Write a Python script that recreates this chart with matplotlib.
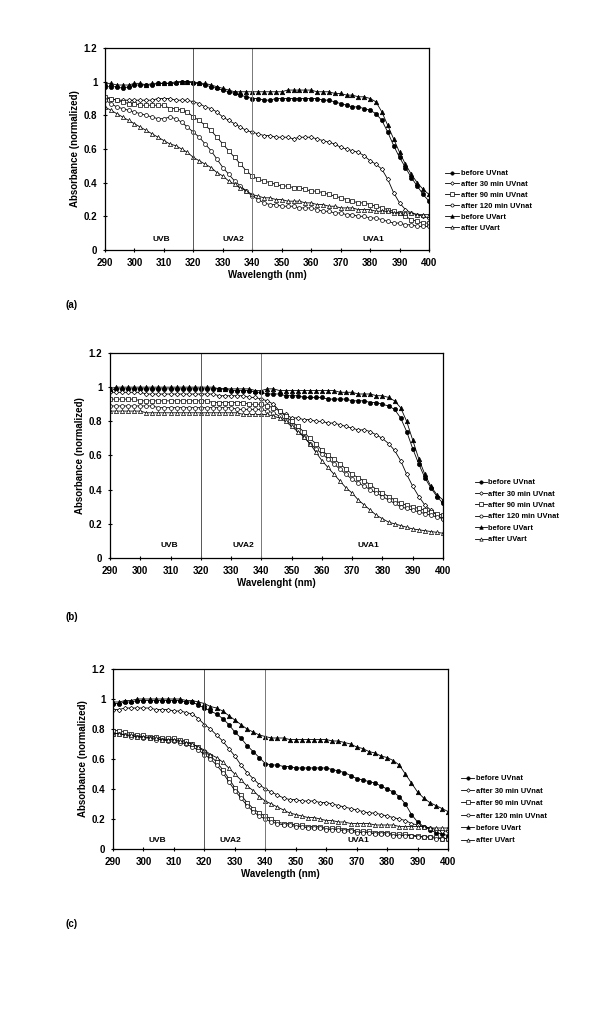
import numpy as np
import matplotlib
matplotlib.use("Agg")
import matplotlib.pyplot as plt

plt.rcParams["font.family"] = ["Liberation Sans", "DejaVu Sans"]
plt.rcParams["font.weight"] = "bold"

# wavelengths (nm), one reading every 2 nm
wl = np.arange(290, 401, 2)

series_names = ["before UVnat", "after 30 min UVnat", "after 90 min UVnat",
                "after 120 min UVnat", "before UVart", "after UVart"]

# ---- panel (a)
a_before_nat = [0.97, 0.97, 0.97, 0.96, 0.97, 0.98, 0.98, 0.98, 0.98, 0.99,
                0.99, 0.99, 0.99, 1.00, 1.00, 0.99, 0.99, 0.98, 0.97, 0.96,
                0.95, 0.94, 0.93, 0.92, 0.91, 0.90, 0.90, 0.89, 0.89, 0.90,
                0.90, 0.90, 0.90, 0.90, 0.90, 0.90, 0.90, 0.89, 0.89, 0.88,
                0.87, 0.86, 0.85, 0.85, 0.84, 0.83, 0.81, 0.77, 0.70, 0.62,
                0.55, 0.49, 0.43, 0.38, 0.33, 0.29]
a_30 = [0.90, 0.90, 0.89, 0.89, 0.89, 0.89, 0.89, 0.89, 0.89, 0.90,
        0.90, 0.90, 0.89, 0.89, 0.89, 0.88, 0.87, 0.85, 0.84, 0.82,
        0.79, 0.77, 0.75, 0.73, 0.71, 0.70, 0.69, 0.68, 0.68, 0.67,
        0.67, 0.67, 0.66, 0.67, 0.67, 0.67, 0.66, 0.65, 0.64, 0.63,
        0.61, 0.60, 0.59, 0.58, 0.56, 0.53, 0.51, 0.48, 0.42, 0.34,
        0.28, 0.24, 0.22, 0.21, 0.20, 0.19]
a_90 = [0.91, 0.90, 0.89, 0.88, 0.87, 0.87, 0.86, 0.86, 0.86, 0.86,
        0.86, 0.84, 0.84, 0.83, 0.82, 0.79, 0.77, 0.74, 0.71, 0.67,
        0.63, 0.59, 0.55, 0.51, 0.47, 0.44, 0.42, 0.41, 0.40, 0.39,
        0.38, 0.38, 0.37, 0.37, 0.36, 0.35, 0.35, 0.34, 0.33, 0.32,
        0.31, 0.30, 0.29, 0.28, 0.28, 0.27, 0.26, 0.25, 0.24, 0.23,
        0.22, 0.20, 0.18, 0.17, 0.16, 0.16]
a_120 = [0.89, 0.87, 0.85, 0.84, 0.83, 0.82, 0.81, 0.80, 0.79, 0.78,
         0.78, 0.79, 0.78, 0.76, 0.73, 0.70, 0.67, 0.63, 0.59, 0.54,
         0.49, 0.45, 0.41, 0.38, 0.35, 0.32, 0.30, 0.28, 0.27, 0.27,
         0.26, 0.26, 0.26, 0.25, 0.25, 0.25, 0.24, 0.23, 0.23, 0.22,
         0.22, 0.21, 0.21, 0.20, 0.20, 0.19, 0.19, 0.18, 0.17, 0.16,
         0.16, 0.15, 0.15, 0.14, 0.14, 0.14]
a_before_art = [0.99, 0.99, 0.98, 0.98, 0.98, 0.99, 0.99, 0.98, 0.99, 0.99,
                0.99, 0.99, 1.00, 1.00, 1.00, 1.00, 0.99, 0.99, 0.98, 0.97,
                0.96, 0.95, 0.94, 0.94, 0.94, 0.94, 0.94, 0.94, 0.94, 0.94,
                0.94, 0.95, 0.95, 0.95, 0.95, 0.95, 0.94, 0.94, 0.94, 0.93,
                0.93, 0.92, 0.92, 0.91, 0.91, 0.90, 0.88, 0.82, 0.74, 0.66,
                0.58, 0.51, 0.45, 0.40, 0.36, 0.33]
a_after_art = [0.85, 0.83, 0.81, 0.79, 0.77, 0.75, 0.73, 0.71, 0.69, 0.67,
               0.65, 0.63, 0.62, 0.60, 0.58, 0.55, 0.53, 0.51, 0.49, 0.46,
               0.44, 0.41, 0.39, 0.37, 0.35, 0.33, 0.32, 0.31, 0.31, 0.30,
               0.30, 0.29, 0.29, 0.29, 0.28, 0.28, 0.27, 0.27, 0.26, 0.26,
               0.25, 0.25, 0.25, 0.24, 0.24, 0.24, 0.23, 0.23, 0.23, 0.22,
               0.22, 0.22, 0.22, 0.21, 0.21, 0.21]

# ---- panel (b)
b_before_nat = [0.98, 0.99, 0.99, 0.99, 0.99, 0.99, 0.99, 0.99, 0.99, 0.99,
                0.99, 0.99, 0.99, 0.99, 0.99, 0.99, 0.99, 0.99, 0.99, 0.99,
                0.98, 0.98, 0.98, 0.98, 0.97, 0.97, 0.96, 0.96, 0.96, 0.95,
                0.95, 0.95, 0.94, 0.94, 0.94, 0.94, 0.93, 0.93, 0.93, 0.93,
                0.92, 0.92, 0.92, 0.91, 0.91, 0.90, 0.89, 0.87, 0.82, 0.74,
                0.64, 0.55, 0.47, 0.41, 0.36, 0.32]
b_30 = [0.97, 0.97, 0.97, 0.97, 0.97, 0.97, 0.96, 0.96, 0.96, 0.96,
        0.96, 0.96, 0.96, 0.96, 0.96, 0.96, 0.96, 0.96, 0.95, 0.95,
        0.95, 0.95, 0.95, 0.94, 0.94, 0.93, 0.92, 0.90, 0.86, 0.84,
        0.82, 0.82, 0.81, 0.81, 0.80, 0.80, 0.79, 0.79, 0.78, 0.77,
        0.76, 0.75, 0.75, 0.74, 0.72, 0.70, 0.67, 0.63, 0.57, 0.49,
        0.42, 0.36, 0.31, 0.28, 0.25, 0.23]
b_90 = [0.93, 0.93, 0.93, 0.93, 0.93, 0.92, 0.92, 0.92, 0.92, 0.92,
        0.92, 0.92, 0.92, 0.92, 0.92, 0.92, 0.92, 0.91, 0.91, 0.91,
        0.91, 0.91, 0.91, 0.90, 0.90, 0.90, 0.89, 0.88, 0.86, 0.83,
        0.80, 0.77, 0.74, 0.70, 0.67, 0.63, 0.60, 0.58, 0.55, 0.52,
        0.49, 0.47, 0.45, 0.43, 0.40, 0.38, 0.36, 0.34, 0.32, 0.31,
        0.30, 0.29, 0.28, 0.27, 0.26, 0.25]
b_120 = [0.89, 0.89, 0.89, 0.89, 0.89, 0.89, 0.89, 0.89, 0.88, 0.88,
         0.88, 0.88, 0.88, 0.88, 0.88, 0.88, 0.88, 0.88, 0.88, 0.88,
         0.88, 0.87, 0.87, 0.87, 0.87, 0.87, 0.86, 0.85, 0.83, 0.81,
         0.78, 0.75, 0.71, 0.67, 0.64, 0.61, 0.58, 0.55, 0.52, 0.49,
         0.46, 0.44, 0.42, 0.40, 0.38, 0.36, 0.34, 0.32, 0.30, 0.29,
         0.28, 0.27, 0.26, 0.25, 0.24, 0.23]
b_before_art = [0.99, 1.00, 1.00, 1.00, 1.00, 1.00, 1.00, 1.00, 1.00, 1.00,
                1.00, 1.00, 1.00, 1.00, 1.00, 1.00, 1.00, 1.00, 0.99, 0.99,
                0.99, 0.99, 0.99, 0.99, 0.98, 0.98, 0.99, 0.99, 0.98, 0.98,
                0.98, 0.98, 0.98, 0.98, 0.98, 0.98, 0.98, 0.98, 0.97, 0.97,
                0.97, 0.96, 0.96, 0.96, 0.95, 0.95, 0.94, 0.92, 0.88, 0.80,
                0.69, 0.58, 0.49, 0.42, 0.37, 0.34]
b_after_art = [0.86, 0.86, 0.86, 0.86, 0.86, 0.86, 0.85, 0.85, 0.85, 0.85,
               0.85, 0.85, 0.85, 0.85, 0.85, 0.85, 0.85, 0.85, 0.85, 0.85,
               0.85, 0.85, 0.84, 0.84, 0.84, 0.84, 0.84, 0.83, 0.82, 0.80,
               0.77, 0.74, 0.71, 0.67, 0.62, 0.57, 0.53, 0.49, 0.45, 0.41,
               0.38, 0.34, 0.31, 0.28, 0.25, 0.23, 0.21, 0.20, 0.19, 0.18,
               0.17, 0.165, 0.16, 0.155, 0.15, 0.145]

# ---- panel (c)
c_before_nat = [0.97, 0.97, 0.98, 0.98, 0.99, 0.99, 0.99, 0.99, 0.99, 0.99,
                0.99, 0.99, 0.98, 0.98, 0.96, 0.94, 0.92, 0.90, 0.87, 0.83,
                0.78, 0.74, 0.69, 0.65, 0.61, 0.57, 0.56, 0.56, 0.55, 0.55,
                0.54, 0.54, 0.54, 0.54, 0.54, 0.54, 0.53, 0.52, 0.51, 0.49,
                0.47, 0.46, 0.45, 0.44, 0.42, 0.40, 0.38, 0.35, 0.30, 0.23,
                0.18, 0.15, 0.13, 0.11, 0.10, 0.09]
c_30 = [0.93, 0.93, 0.94, 0.94, 0.94, 0.94, 0.94, 0.93, 0.93, 0.93,
        0.92, 0.92, 0.91, 0.90, 0.87, 0.83, 0.80, 0.76, 0.72, 0.67,
        0.62, 0.56, 0.51, 0.47, 0.43, 0.40, 0.38, 0.36, 0.34, 0.33,
        0.33, 0.32, 0.32, 0.32, 0.31, 0.31, 0.30, 0.29, 0.28, 0.27,
        0.26, 0.25, 0.24, 0.24, 0.23, 0.22, 0.21, 0.20, 0.19, 0.17,
        0.16, 0.15, 0.14, 0.13, 0.12, 0.12]
c_90 = [0.79, 0.79, 0.78, 0.77, 0.76, 0.76, 0.75, 0.75, 0.74, 0.74,
        0.74, 0.73, 0.72, 0.70, 0.68, 0.65, 0.62, 0.58, 0.53, 0.47,
        0.41, 0.36, 0.31, 0.27, 0.24, 0.22, 0.20, 0.18, 0.17, 0.17,
        0.16, 0.16, 0.15, 0.15, 0.15, 0.14, 0.14, 0.14, 0.13, 0.13,
        0.12, 0.12, 0.12, 0.11, 0.11, 0.11, 0.10, 0.10, 0.10, 0.09,
        0.09, 0.08, 0.08, 0.08, 0.07, 0.07]
c_120 = [0.77, 0.77, 0.76, 0.75, 0.75, 0.74, 0.74, 0.73, 0.73, 0.72,
         0.72, 0.71, 0.70, 0.68, 0.66, 0.63, 0.60, 0.56, 0.51, 0.45,
         0.39, 0.34, 0.29, 0.25, 0.22, 0.20, 0.18, 0.17, 0.16, 0.16,
         0.15, 0.15, 0.14, 0.14, 0.14, 0.13, 0.13, 0.13, 0.12, 0.12,
         0.11, 0.11, 0.11, 0.10, 0.10, 0.10, 0.09, 0.09, 0.09, 0.09,
         0.08, 0.08, 0.08, 0.07, 0.07, 0.07]
c_before_art = [0.98, 0.98, 0.99, 0.99, 1.00, 1.00, 1.00, 1.00, 1.00, 1.00,
                1.00, 1.00, 0.99, 0.99, 0.98, 0.97, 0.95, 0.94, 0.92, 0.89,
                0.86, 0.83, 0.80, 0.78, 0.76, 0.75, 0.74, 0.74, 0.74, 0.73,
                0.73, 0.73, 0.73, 0.73, 0.73, 0.73, 0.72, 0.72, 0.71, 0.70,
                0.68, 0.67, 0.65, 0.64, 0.62, 0.61, 0.59, 0.56, 0.50, 0.44,
                0.38, 0.34, 0.31, 0.29, 0.27, 0.25]
c_after_art = [0.77, 0.77, 0.76, 0.76, 0.75, 0.75, 0.74, 0.74, 0.73, 0.73,
               0.73, 0.72, 0.71, 0.70, 0.68, 0.66, 0.63, 0.61, 0.58, 0.54,
               0.50, 0.46, 0.42, 0.39, 0.35, 0.32, 0.30, 0.28, 0.26, 0.24,
               0.23, 0.22, 0.21, 0.21, 0.20, 0.19, 0.19, 0.18, 0.18, 0.17,
               0.17, 0.17, 0.17, 0.16, 0.16, 0.16, 0.16, 0.15, 0.15, 0.15,
               0.15, 0.15, 0.14, 0.14, 0.14, 0.14]

yticks = [0, 0.2, 0.4, 0.6, 0.8, 1.0, 1.2]
ytick_labels = ["0", "0.2", "0.4", "0.6", "0.8", "1", "1.2"]
xticks = np.arange(290, 401, 10)

# marker, fill, size for each series (same order as series_names)
styles = [("o", "k", 3.0), ("D", "w", 2.3), ("s", "w", 3.0),
          ("o", "w", 2.8), ("^", "k", 3.2), ("^", "w", 3.0)]


def draw_panel(fig, rect, data, xlabel, band_pos, band_y, leg_anchor, leg_gap,
               hlen, tag, tag_pos):
    ax = fig.add_axes(rect)
    lines = []
    for vals, name, (mk, fc, ms) in zip(data, series_names, styles):
        ln, = ax.plot(wl, vals, color="k", lw=0.6, marker=mk, ms=ms,
                      mfc=fc, mec="k", mew=0.5, label=name)
        lines.append(ln)
    ax.axvline(320, color="#555555", lw=0.7)
    ax.axvline(340, color="#777777", lw=0.7)
    for txt, xp in zip(["UVB", "UVA2", "UVA1"], band_pos):
        ax.text(xp, band_y, txt, ha="center", va="center", fontsize=6, fontweight="bold")
    ax.set_xlim(290, 400)
    ax.set_ylim(0, 1.2)
    ax.set_xticks(xticks)
    ax.set_yticks(yticks)
    ax.set_yticklabels(ytick_labels)
    ax.tick_params(labelsize=7, length=3, width=0.8, direction="inout", pad=4)
    for sp in ax.spines.values():
        sp.set_linewidth(0.9)
    ax.set_xlabel(xlabel, fontsize=7, fontweight="bold", labelpad=2)
    ax.set_ylabel("Absorbance (normalized)", fontsize=7, fontweight="bold", labelpad=3)
    fig.legend(handles=lines, loc="upper left", bbox_to_anchor=leg_anchor,
               frameon=False, fontsize=5.4, handlelength=hlen, handletextpad=0.2,
               labelspacing=leg_gap, borderaxespad=0, borderpad=0, markerscale=0.8)
    fig.text(tag_pos[0], tag_pos[1], tag, fontsize=7, fontweight="bold",
             ha="left", va="center")
    return ax


W, H = 600, 1009
fig = plt.figure(figsize=(6, 10.09), dpi=100)

data_a = [a_before_nat, a_30, a_90, a_120, a_before_art, a_after_art]
data_b = [b_before_nat, b_30, b_90, b_120, b_before_art, b_after_art]
data_c = [c_before_nat, c_30, c_90, c_120, c_before_art, c_after_art]

draw_panel(fig, [105 / W, 1 - 250 / H, 324 / W, 202 / H], data_a,
           "Wavelength (nm)", [309, 333.5, 381], 0.065,
           (445 / W, 1 - 170 / H), 0.48, 1.9, "(a)", (66 / W, 1 - 305 / H))
draw_panel(fig, [110 / W, 1 - 558 / H, 333 / W, 205 / H], data_b,
           "Wavelenght (nm)", [309.5, 334, 375.5], 0.075,
           (475 / W, 1 - 479 / H), 0.55, 1.6, "(b)", (66 / W, 1 - 617 / H))
draw_panel(fig, [113 / W, 1 - 849 / H, 335 / W, 180 / H], data_c,
           "Wavelength (nm)", [304.5, 328.5, 370.5], 0.055,
           (461 / W, 1 - 775 / H), 0.69, 1.75, "(c)", (66 / W, 1 - 924 / H))

fig.savefig("out.png", dpi=100)
